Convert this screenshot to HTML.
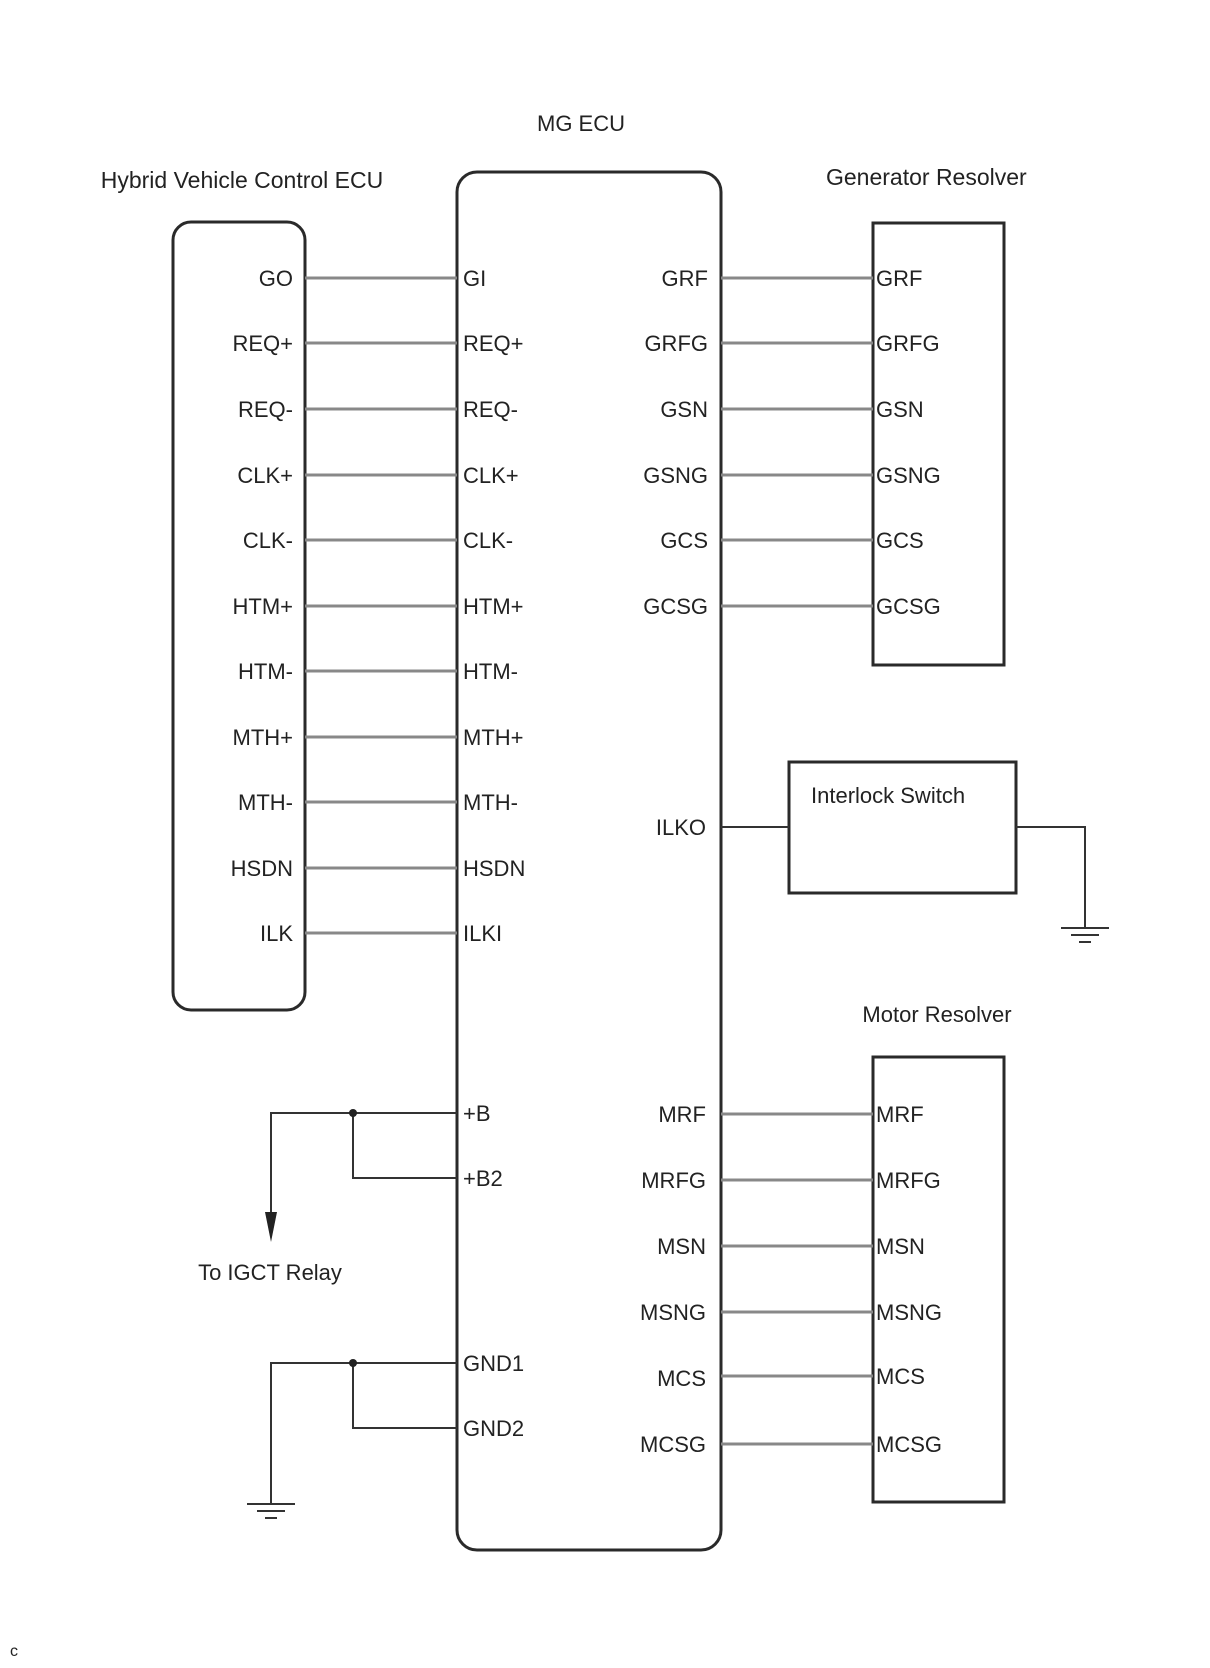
<!DOCTYPE html>
<html><head><meta charset="utf-8"><style>
html,body{margin:0;padding:0;background:#fff;}
svg{display:block;}
text{font-family:"Liberation Sans",Arial,sans-serif;font-size:22px;fill:#222;}
</style></head><body>
<svg width="1210" height="1668" viewBox="0 0 1210 1668" xmlns="http://www.w3.org/2000/svg">
<g fill="none" stroke="#2a2a2a" stroke-width="3">
<rect x="173" y="222" width="132" height="788" rx="18"/>
<rect x="457" y="172" width="264" height="1378" rx="20"/>
<rect x="873" y="223" width="131" height="442"/>
<rect x="789" y="762" width="227" height="131"/>
<rect x="873" y="1057" width="131" height="445"/>
</g>
<text x="581" y="131" text-anchor="middle">MG ECU</text>
<text x="242" y="188" text-anchor="middle" style="font-size:23px">Hybrid Vehicle Control ECU</text>
<text x="826" y="185" style="font-size:23px">Generator Resolver</text>
<text x="937" y="1022" text-anchor="middle">Motor Resolver</text>
<text x="811" y="803">Interlock Switch</text>
<text x="270" y="1280" text-anchor="middle">To IGCT Relay</text>
<text x="10" y="1656" style="font-size:16px">c</text>
<g stroke="#888" stroke-width="3">
<line x1="305" y1="278" x2="457" y2="278"/><line x1="305" y1="343" x2="457" y2="343"/><line x1="305" y1="409" x2="457" y2="409"/><line x1="305" y1="475" x2="457" y2="475"/><line x1="305" y1="540" x2="457" y2="540"/><line x1="305" y1="606" x2="457" y2="606"/><line x1="305" y1="671" x2="457" y2="671"/><line x1="305" y1="737" x2="457" y2="737"/><line x1="305" y1="802" x2="457" y2="802"/><line x1="305" y1="868" x2="457" y2="868"/><line x1="305" y1="933" x2="457" y2="933"/>
<line x1="721" y1="278" x2="873" y2="278"/><line x1="721" y1="343" x2="873" y2="343"/><line x1="721" y1="409" x2="873" y2="409"/><line x1="721" y1="475" x2="873" y2="475"/><line x1="721" y1="540" x2="873" y2="540"/><line x1="721" y1="606" x2="873" y2="606"/>
<line x1="721" y1="1114" x2="873" y2="1114"/><line x1="721" y1="1180" x2="873" y2="1180"/><line x1="721" y1="1246" x2="873" y2="1246"/><line x1="721" y1="1312" x2="873" y2="1312"/><line x1="721" y1="1376" x2="873" y2="1376"/><line x1="721" y1="1444" x2="873" y2="1444"/>
</g>
<g stroke="#333" stroke-width="2" fill="none">
<line x1="721" y1="827" x2="789" y2="827"/>
<polyline points="1016,827 1085,827 1085,928"/>
<line x1="1061" y1="928" x2="1109" y2="928"/><line x1="1071" y1="935" x2="1099" y2="935"/><line x1="1079" y1="942" x2="1091" y2="942"/>
<polyline points="457,1113 271,1113 271,1214"/>
<polyline points="353,1113 353,1178 457,1178"/>
<polyline points="457,1363 271,1363 271,1504"/>
<polyline points="353,1363 353,1428 457,1428"/>
<line x1="247" y1="1504" x2="295" y2="1504"/><line x1="257" y1="1511" x2="285" y2="1511"/><line x1="265" y1="1518" x2="277" y2="1518"/>
</g>
<circle cx="353" cy="1113" r="4" fill="#222"/><circle cx="353" cy="1363" r="4" fill="#222"/>
<polygon points="265,1212 277,1212 271,1242" fill="#222"/>
<g text-anchor="end">
<text x="293" y="286">GO</text><text x="293" y="351">REQ+</text><text x="293" y="417">REQ-</text><text x="293" y="483">CLK+</text><text x="293" y="548">CLK-</text><text x="293" y="614">HTM+</text><text x="293" y="679">HTM-</text><text x="293" y="745">MTH+</text><text x="293" y="810">MTH-</text><text x="293" y="876">HSDN</text><text x="293" y="941">ILK</text>
<text x="708" y="286">GRF</text><text x="708" y="351">GRFG</text><text x="708" y="417">GSN</text><text x="708" y="483">GSNG</text><text x="708" y="548">GCS</text><text x="708" y="614">GCSG</text>
<text x="706" y="835">ILKO</text>
<text x="706" y="1122">MRF</text><text x="706" y="1188">MRFG</text><text x="706" y="1254">MSN</text><text x="706" y="1320">MSNG</text><text x="706" y="1386">MCS</text><text x="706" y="1452">MCSG</text>
</g>
<text x="463" y="286">GI</text><text x="463" y="351">REQ+</text><text x="463" y="417">REQ-</text><text x="463" y="483">CLK+</text><text x="463" y="548">CLK-</text><text x="463" y="614">HTM+</text><text x="463" y="679">HTM-</text><text x="463" y="745">MTH+</text><text x="463" y="810">MTH-</text><text x="463" y="876">HSDN</text><text x="463" y="941">ILKI</text>
<text x="463" y="1121">+B</text><text x="463" y="1186">+B2</text><text x="463" y="1371">GND1</text><text x="463" y="1436">GND2</text>
<text x="876" y="286">GRF</text><text x="876" y="351">GRFG</text><text x="876" y="417">GSN</text><text x="876" y="483">GSNG</text><text x="876" y="548">GCS</text><text x="876" y="614">GCSG</text>
<text x="876" y="1122">MRF</text><text x="876" y="1188">MRFG</text><text x="876" y="1254">MSN</text><text x="876" y="1320">MSNG</text><text x="876" y="1384">MCS</text><text x="876" y="1452">MCSG</text>
</svg>
</body></html>
